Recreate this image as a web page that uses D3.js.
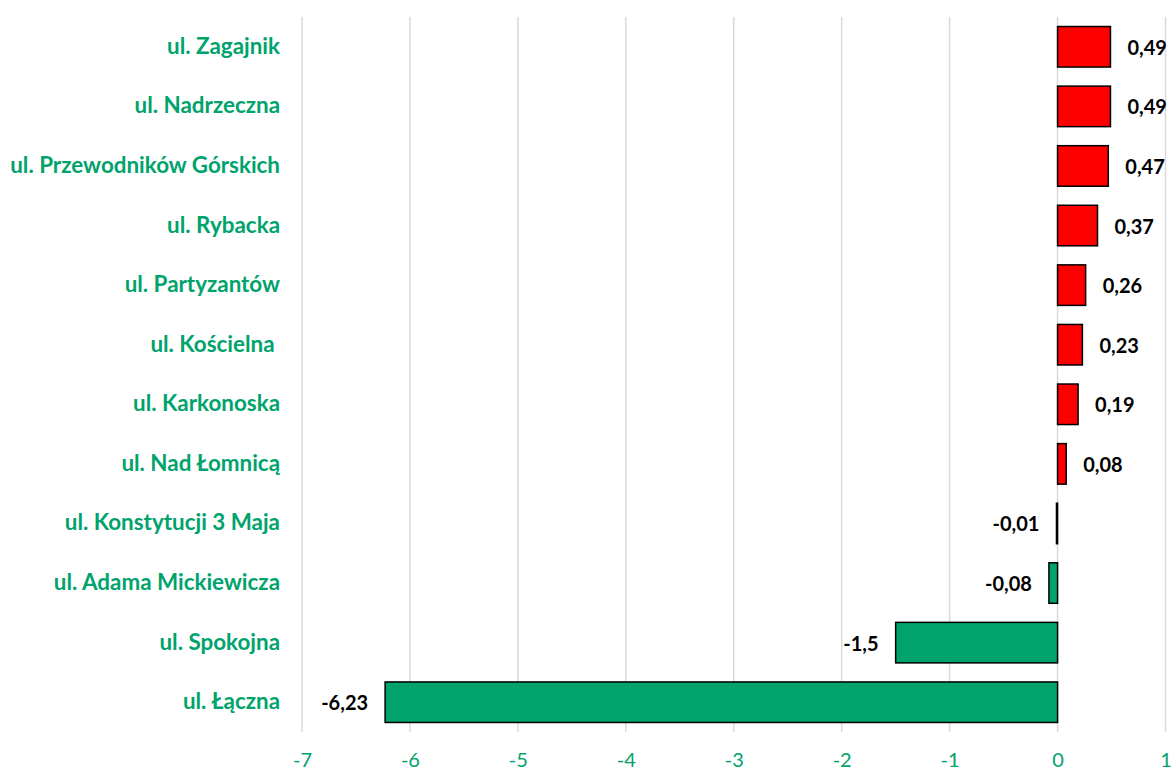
<!DOCTYPE html>
<html>
<head>
<meta charset="utf-8">
<script src="https://cdn.jsdelivr.net/npm/d3@7"></script>
<style>
  html, body { margin: 0; padding: 0; background: #fff; }
  svg text { font-family: Lato, "Open Sans", sans-serif; }
</style>
</head>
<body>
<svg id="chart" width="1173" height="772"></svg>
<script>
// Streets and their values (top to bottom)
const streets = [
  "ul. Zagajnik",
  "ul. Nadrzeczna",
  "ul. Przewodników Górskich",
  "ul. Rybacka",
  "ul. Partyzantów",
  "ul. Kościelna ",
  "ul. Karkonoska",
  "ul. Nad Łomnicą",
  "ul. Konstytucji 3 Maja",
  "ul. Adama Mickiewicza",
  "ul. Spokojna",
  "ul. Łączna"
];
const values = [0.49, 0.49, 0.47, 0.37, 0.26, 0.23, 0.19, 0.08, -0.01, -0.08, -1.5, -6.23];
const xTicks = [-7, -6, -5, -4, -3, -2, -1, 0, 1];

const GREEN = "#00A36B";
const RED = "#FF0000";

const svg = d3.select("#chart");
const plotLeft = 302, plotRight = 1165.5, plotTop = 17, plotBottom = 732;

const x = d3.scaleLinear().domain([-7, 1]).range([plotLeft, plotRight]);
const y = d3.scaleBand().domain(streets).range([plotTop, plotBottom]).paddingInner(0.32).paddingOuter(0.16);

// vertical gridlines
svg.append("g")
  .selectAll("line")
  .data(xTicks)
  .join("line")
  .attr("x1", d => x(d)).attr("x2", d => x(d))
  .attr("y1", plotTop).attr("y2", plotBottom)
  .attr("stroke", "#D9D9D9")
  .attr("stroke-width", 1.5);

// x axis tick labels (plain hyphen for negatives)
const xAxis = d3.axisBottom(x).tickValues(xTicks).tickSize(0).tickPadding(0).tickFormat(d => String(d));
const gx = svg.append("g").attr("transform", `translate(0,${plotBottom})`).call(xAxis);
gx.select(".domain").remove();
gx.selectAll("text")
  .attr("dy", null)
  .attr("y", 35)
  .attr("fill", GREEN)
  .attr("font-size", 20)
  .style("font-family", "Lato, 'Open Sans', sans-serif");

const rows = streets.map((s, i) => ({ s, v: values[i] }));

// bars
svg.append("g")
  .selectAll("rect")
  .data(rows)
  .join("rect")
  .attr("x", d => x(Math.min(0, d.v)))
  .attr("width", d => Math.abs(x(d.v) - x(0)))
  .attr("y", d => y(d.s))
  .attr("height", y.bandwidth())
  .attr("fill", d => d.v >= 0 ? RED : GREEN)
  .attr("stroke", "#000")
  .attr("stroke-width", 1.5);

// value labels
svg.append("g")
  .selectAll("text")
  .data(rows)
  .join("text")
  .attr("x", d => d.v >= 0 ? x(d.v) + 17 : x(d.v) - 17)
  .attr("y", d => y(d.s) + y.bandwidth() / 2 + 8)
  .attr("text-anchor", d => d.v >= 0 ? "start" : "end")
  .attr("font-size", 20)
  .attr("font-weight", "bold")
  .attr("fill", "#000")
  .text(d => String(d.v).replace(".", ","));

// category labels
svg.append("g")
  .selectAll("text")
  .data(rows)
  .join("text")
  .attr("x", 280)
  .attr("y", d => y(d.s) + y.bandwidth() / 2 + 7)
  .attr("text-anchor", "end")
  .attr("font-size", 22.4)
  .attr("font-weight", "bold")
  .attr("fill", GREEN)
  .style("white-space", "pre")
  .text(d => d.s);
</script>
</body>
</html>
